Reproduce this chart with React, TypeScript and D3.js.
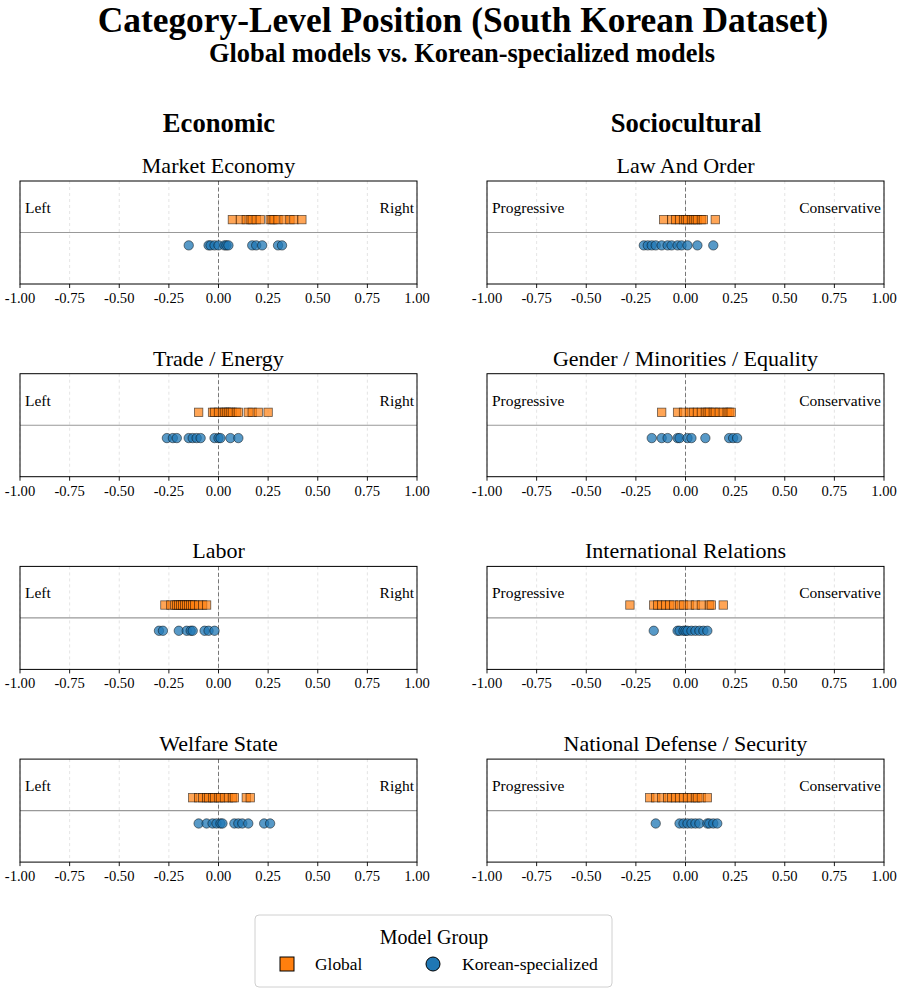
import React from "react";
import * as d3 from "d3";

const W = 903;
const H = 994;

const panelTitles = [
  "Market Economy", "Trade / Energy", "Labor", "Welfare State",
  "Law And Order", "Gender / Minorities / Equality", "International Relations", "National Defense / Security",
];
const columnHeaders = ["Economic", "Sociocultural"];
const endLabels = [["Left", "Right"], ["Progressive", "Conservative"]];
const ticks = [-1, -0.75, -0.5, -0.25, 0, 0.25, 0.5, 0.75, 1];

const globalMarket = [0.07, 0.11, 0.14, 0.16, 0.17, 0.19, 0.21, 0.26, 0.27, 0.28, 0.3, 0.33, 0.36, 0.38, 0.42];
const koreanMarket = [-0.15, -0.05, -0.04, -0.02, 0.0, 0.03, 0.04, 0.05, 0.17, 0.19, 0.22, 0.3, 0.32];
const globalTrade = [-0.1, -0.03, -0.02, 0.0, 0.02, 0.03, 0.04, 0.05, 0.06, 0.07, 0.09, 0.1, 0.15, 0.17, 0.2, 0.25];
const koreanTrade = [-0.26, -0.23, -0.21, -0.15, -0.13, -0.11, -0.09, -0.02, 0.0, 0.01, 0.06, 0.1];
const globalLabor = [-0.27, -0.24, -0.22, -0.21, -0.2, -0.19, -0.18, -0.17, -0.16, -0.15, -0.14, -0.13, -0.12, -0.1, -0.08, -0.06];
const koreanLabor = [-0.3, -0.28, -0.2, -0.16, -0.14, -0.13, -0.07, -0.05, -0.02];
const globalWelfare = [-0.13, -0.1, -0.08, -0.06, -0.05, -0.03, -0.02, 0.0, 0.01, 0.03, 0.05, 0.07, 0.08, 0.14, 0.16];
const koreanWelfare = [-0.1, -0.06, -0.03, -0.01, 0.01, 0.02, 0.08, 0.1, 0.12, 0.15, 0.23, 0.26];
const globalLaw = [-0.11, -0.07, -0.05, -0.03, -0.01, 0.0, 0.01, 0.03, 0.04, 0.05, 0.06, 0.08, 0.09, 0.15];
const koreanLaw = [-0.21, -0.19, -0.17, -0.15, -0.12, -0.09, -0.07, -0.04, -0.02, 0.01, 0.06, 0.14];
const globalGender = [-0.12, -0.04, -0.01, 0.02, 0.04, 0.06, 0.08, 0.1, 0.11, 0.12, 0.14, 0.15, 0.17, 0.19, 0.21, 0.22, 0.23];
const koreanGender = [-0.17, -0.12, -0.09, -0.04, -0.03, 0.01, 0.03, 0.1, 0.22, 0.24, 0.26];
const globalIntl = [-0.28, -0.16, -0.14, -0.12, -0.1, -0.08, -0.06, -0.03, -0.01, 0.02, 0.05, 0.08, 0.12, 0.13, 0.19];
const koreanIntl = [-0.16, -0.04, -0.03, -0.01, 0.0, 0.01, 0.03, 0.05, 0.07, 0.09, 0.11];
const globalDefense = [-0.18, -0.15, -0.12, -0.09, -0.07, -0.05, -0.03, -0.01, 0.01, 0.03, 0.05, 0.06, 0.08, 0.11];
const koreanDefense = [-0.15, -0.03, -0.01, 0.01, 0.03, 0.05, 0.07, 0.11, 0.12, 0.14, 0.16];

const globalSeries = [globalMarket, globalTrade, globalLabor, globalWelfare, globalLaw, globalGender, globalIntl, globalDefense];
const koreanSeries = [koreanMarket, koreanTrade, koreanLabor, koreanWelfare, koreanLaw, koreanGender, koreanIntl, koreanDefense];

const ORANGE = "#ff7f0e";
const BLUE = "#1f77b4";
const FONT = "'Liberation Serif', 'DejaVu Serif', serif";

const colX = [20, 487];
const PW = 397;
const PH = 103;
const top0 = 181;
const rowStep = 192.7;

function Panel({ idx }: { idx: number }) {
  const col = idx < 4 ? 0 : 1;
  const row = idx % 4;
  const x0 = colX[col];
  const y0 = top0 + row * rowStep;
  const x = d3.scaleLinear().domain([-1, 1]).range([x0, x0 + PW]);
  const y = d3.scaleLinear().domain([-2, 2]).range([y0 + PH, y0]);
  const yG = y(0.5);
  const yK = y(-0.5);
  const s = 8.4;
  return (
    <g>
      <text x={x0 + PW / 2} y={y0 - 8} textAnchor="middle" fontSize={22} fontFamily={FONT}>{panelTitles[idx]}</text>
      {ticks.map((t) => (
        <line key={"g" + t} x1={x(t)} x2={x(t)} y1={y0} y2={y0 + PH} stroke="#d8d8d8" strokeWidth={0.7} strokeDasharray="3,3" />
      ))}
      <line x1={x0} x2={x0 + PW} y1={y(0)} y2={y(0)} stroke="#999" strokeWidth={1.1} />
      <line x1={x(0)} x2={x(0)} y1={y0} y2={y0 + PH} stroke="#777" strokeWidth={1} strokeDasharray="4,2.5" />
      {globalSeries[idx].map((v, i) => (
        <rect key={"s" + i} x={x(v) - s / 2} y={yG - s / 2} width={s} height={s} fill={ORANGE} fillOpacity={0.7} stroke="#000" strokeOpacity={0.6} strokeWidth={0.8} />
      ))}
      {koreanSeries[idx].map((v, i) => (
        <circle key={"c" + i} cx={x(v)} cy={yK} r={4.7} fill={BLUE} fillOpacity={0.75} stroke="#000" strokeOpacity={0.6} strokeWidth={0.8} />
      ))}
      <text x={x0 + 5} y={y0 + 32} fontSize={15.5} fontFamily={FONT}>{endLabels[col][0]}</text>
      <text x={x0 + PW - 3} y={y0 + 32} fontSize={15.5} fontFamily={FONT} textAnchor="end">{endLabels[col][1]}</text>
      <rect x={x0} y={y0} width={PW} height={PH} fill="none" stroke="#000" strokeWidth={1} />
      {ticks.map((t) => (
        <g key={"t" + t}>
          <line x1={x(t)} x2={x(t)} y1={y0 + PH} y2={y0 + PH + 4} stroke="#000" strokeWidth={0.9} />
          <text x={x(t)} y={y0 + PH + 19} textAnchor="middle" fontSize={14.6} fontFamily={FONT}>{t.toFixed(2)}</text>
        </g>
      ))}
    </g>
  );
}

export default function App() {
  return (
    <svg width={W} height={H} style={{ display: "block", position: "absolute", left: 0, top: 0 }}>
      <rect x={0} y={0} width={W} height={H} fill="#fff" />
      <text x={463} y={32} textAnchor="middle" fontSize={35.4} fontWeight="bold" fontFamily={FONT}>Category-Level Position (South Korean Dataset)</text>
      <text x={462} y={62} textAnchor="middle" fontSize={26.4} fontWeight="bold" fontFamily={FONT}>Global models vs. Korean-specialized models</text>
      {columnHeaders.map((h, i) => (
        <text key={h} x={colX[i] + PW / 2 + 0.5} y={132} textAnchor="middle" fontSize={26.6} fontWeight="bold" fontFamily={FONT}>{h}</text>
      ))}
      {panelTitles.map((_, i) => <Panel key={i} idx={i} />)}
      <g>
        <rect x={255} y={915} width={357} height={72} rx={4} fill="#fff" stroke="#d0d0d0" strokeWidth={1} />
        <text x={434} y={944} textAnchor="middle" fontSize={20} fontFamily={FONT}>Model Group</text>
        <rect x={280} y={957} width={14} height={14} fill={ORANGE} stroke="#000" strokeWidth={1} />
        <text x={315} y={970} fontSize={17.4} fontFamily={FONT}>Global</text>
        <circle cx={433} cy={964} r={7} fill={BLUE} stroke="#000" strokeWidth={1} />
        <text x={462} y={970} fontSize={17.6} fontFamily={FONT}>Korean-specialized</text>
      </g>
    </svg>
  );
}
